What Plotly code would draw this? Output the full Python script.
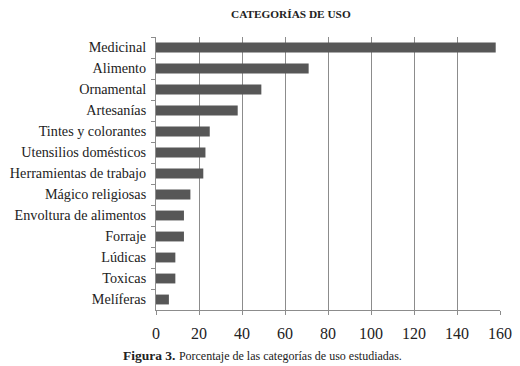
import plotly.graph_objects as go

categories = ["Medicinal", "Alimento", "Ornamental", "Artesanías", "Tintes y colorantes",
              "Utensilios domésticos", "Herramientas de trabajo", "Mágico religiosas",
              "Envoltura de alimentos", "Forraje", "Lúdicas", "Toxicas", "Melíferas"]
values = [158, 71, 49, 38, 25, 23, 22, 16, 13, 13, 9, 9, 6]
x_ticks = [0, 20, 40, 60, 80, 100, 120, 140, 160]

fig = go.Figure(go.Bar(
    x=values, y=categories, orientation="h",
    marker=dict(color="#575757", line=dict(width=0)),
    width=0.47,
))

fig.update_layout(
    width=520, height=366,
    margin=dict(l=156, r=20, t=37, b=56),
    paper_bgcolor="white", plot_bgcolor="white",
    font=dict(family="Liberation Serif", color="#222"),
    showlegend=False,
    xaxis=dict(range=[0, 160], tickvals=x_ticks, showgrid=True, gridcolor="#8c8c8c", gridwidth=1,
               showline=True, linecolor="#8c8c8c", ticks="outside", ticklen=4, tickcolor="#8c8c8c",
               ticklabelstandoff=5, automargin=False,
               tickfont=dict(size=16, family="Liberation Serif", color="#222"), zeroline=False,
               fixedrange=True),
    yaxis=dict(autorange="reversed", categoryorder="array", categoryarray=categories,
               showline=True, linecolor="#8c8c8c", ticks="outside", ticklen=4, tickcolor="#8c8c8c",
               tickson="boundaries", showgrid=False, ticklabelstandoff=6, automargin=False,
               tickfont=dict(size=14.2, family="Liberation Serif", color="#222"), fixedrange=True),
)

fig.add_annotation(text="<b>CATEGORÍAS DE USO</b>", xref="paper", yref="paper",
                   x=(291 - 156) / 344, y=1, yshift=23, xanchor="center", yanchor="middle", showarrow=False,
                   font=dict(size=11.3, family="Liberation Serif", color="#222"))
fig.add_annotation(text="<b>Figura 3.</b> <span style='font-size:12px'>Porcentaje de las categorías de uso estudiadas.</span>",
                   xref="paper", yref="paper", x=(262 - 156) / 344, y=0, yshift=-45,
                   xanchor="center", yanchor="middle", showarrow=False,
                   font=dict(size=13.5, family="Liberation Serif", color="#222"))

fig.write_html("out.html", config={"displayModeBar": False},
               post_script="document.body.style.margin='0';document.body.style.overflow='hidden';")
